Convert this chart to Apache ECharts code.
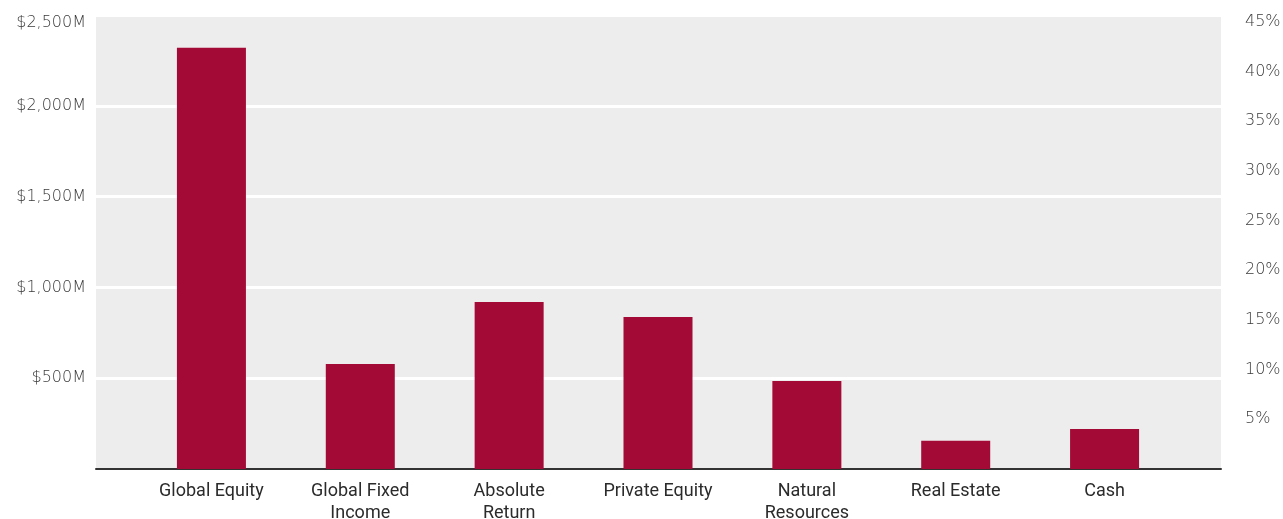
<!DOCTYPE html>
<html>
<head>
<meta charset="utf-8">
<script src="https://cdn.jsdelivr.net/npm/echarts@6/dist/echarts.min.js"></script>
<style>
  html, body { margin: 0; padding: 0; background: #ffffff; }
  #chart { width: 1283px; height: 519px; }
</style>
</head>
<body>
<div id="chart"></div>
<script>
// Asset classes and their market value (millions of dollars)
const categories = ['Global Equity', 'Global Fixed\nIncome', 'Absolute\nReturn', 'Private Equity', 'Natural\nResources', 'Real Estate', 'Cash'];
const valuesM = [2320, 578, 920, 837, 485, 155, 220];

// Left axis: dollars; right axis: share of total portfolio
const dollarMax = 2500;
const dollarStep = 500;
const percentMax = 45.7;
const percentStep = 5;

const chart = echarts.init(document.getElementById('chart'), null, { renderer: 'canvas' });

const axisFont = { color: '#3a3a3a', fontFamily: '"DejaVu Sans", sans-serif', fontWeight: 200, fontSize: 16 };

chart.setOption({
  animation: false,
  backgroundColor: '#ffffff',
  grid: [
    // full-width panel: background, gridlines, baseline
    { left: 96, right: 62, top: 15, bottom: 50, show: true, backgroundColor: '#ededed', borderWidth: 0, outerBoundsMode: 'none', containLabel: false },
    // inner panel holding the bars
    { left: 137, right: 104, top: 15, bottom: 50, outerBoundsMode: 'none', containLabel: false }
  ],
  xAxis: [
    {
      gridIndex: 0, type: 'value', min: 0, max: 1,
      axisLine: { show: true, lineStyle: { color: '#333333', width: 2 } },
      axisTick: { show: false }, axisLabel: { show: false }, splitLine: { show: false }
    },
    {
      gridIndex: 1, type: 'category', data: categories,
      axisLine: { show: false }, axisTick: { show: false },
      axisLabel: {
        interval: 0, margin: 11, color: '#2b2b2b', fontSize: 18, lineHeight: 22,
        fontFamily: 'Roboto, "Noto Sans", sans-serif'
      }
    }
  ],
  yAxis: [
    {
      gridIndex: 0, type: 'value', position: 'left', min: 0, max: dollarMax, interval: dollarStep,
      axisLine: { show: false }, axisTick: { show: false },
      splitLine: { show: true, lineStyle: { color: '#ffffff', width: 3 } },
      axisLabel: Object.assign({}, axisFont, {
        margin: 10, showMinLabel: false,
        formatter: v => {
          const s = '$' + v.toLocaleString('en-US') + 'M';
          return v === dollarMax ? '{top|' + s + '}' : s;
        },
        // keep the topmost label clear of the panel edge
        rich: { top: Object.assign({}, axisFont, { lineHeight: 32, verticalAlign: 'bottom' }) }
      })
    },
    {
      gridIndex: 0, type: 'value', position: 'right', min: 0, max: percentMax, interval: percentStep,
      axisLine: { show: false }, axisTick: { show: false }, splitLine: { show: false },
      axisLabel: Object.assign({}, axisFont, {
        margin: 24, showMinLabel: false, showMaxLabel: false,
        formatter: v => v + '%'
      })
    },
    {
      gridIndex: 1, type: 'value', min: 0, max: dollarMax, show: false,
      splitLine: { show: false }
    }
  ],
  series: [
    {
      type: 'bar',
      xAxisIndex: 1,
      yAxisIndex: 2,
      data: valuesM,
      barWidth: 69,
      itemStyle: { color: '#a30a35' },
      z: 1
    }
  ]
});
</script>
</body>
</html>
